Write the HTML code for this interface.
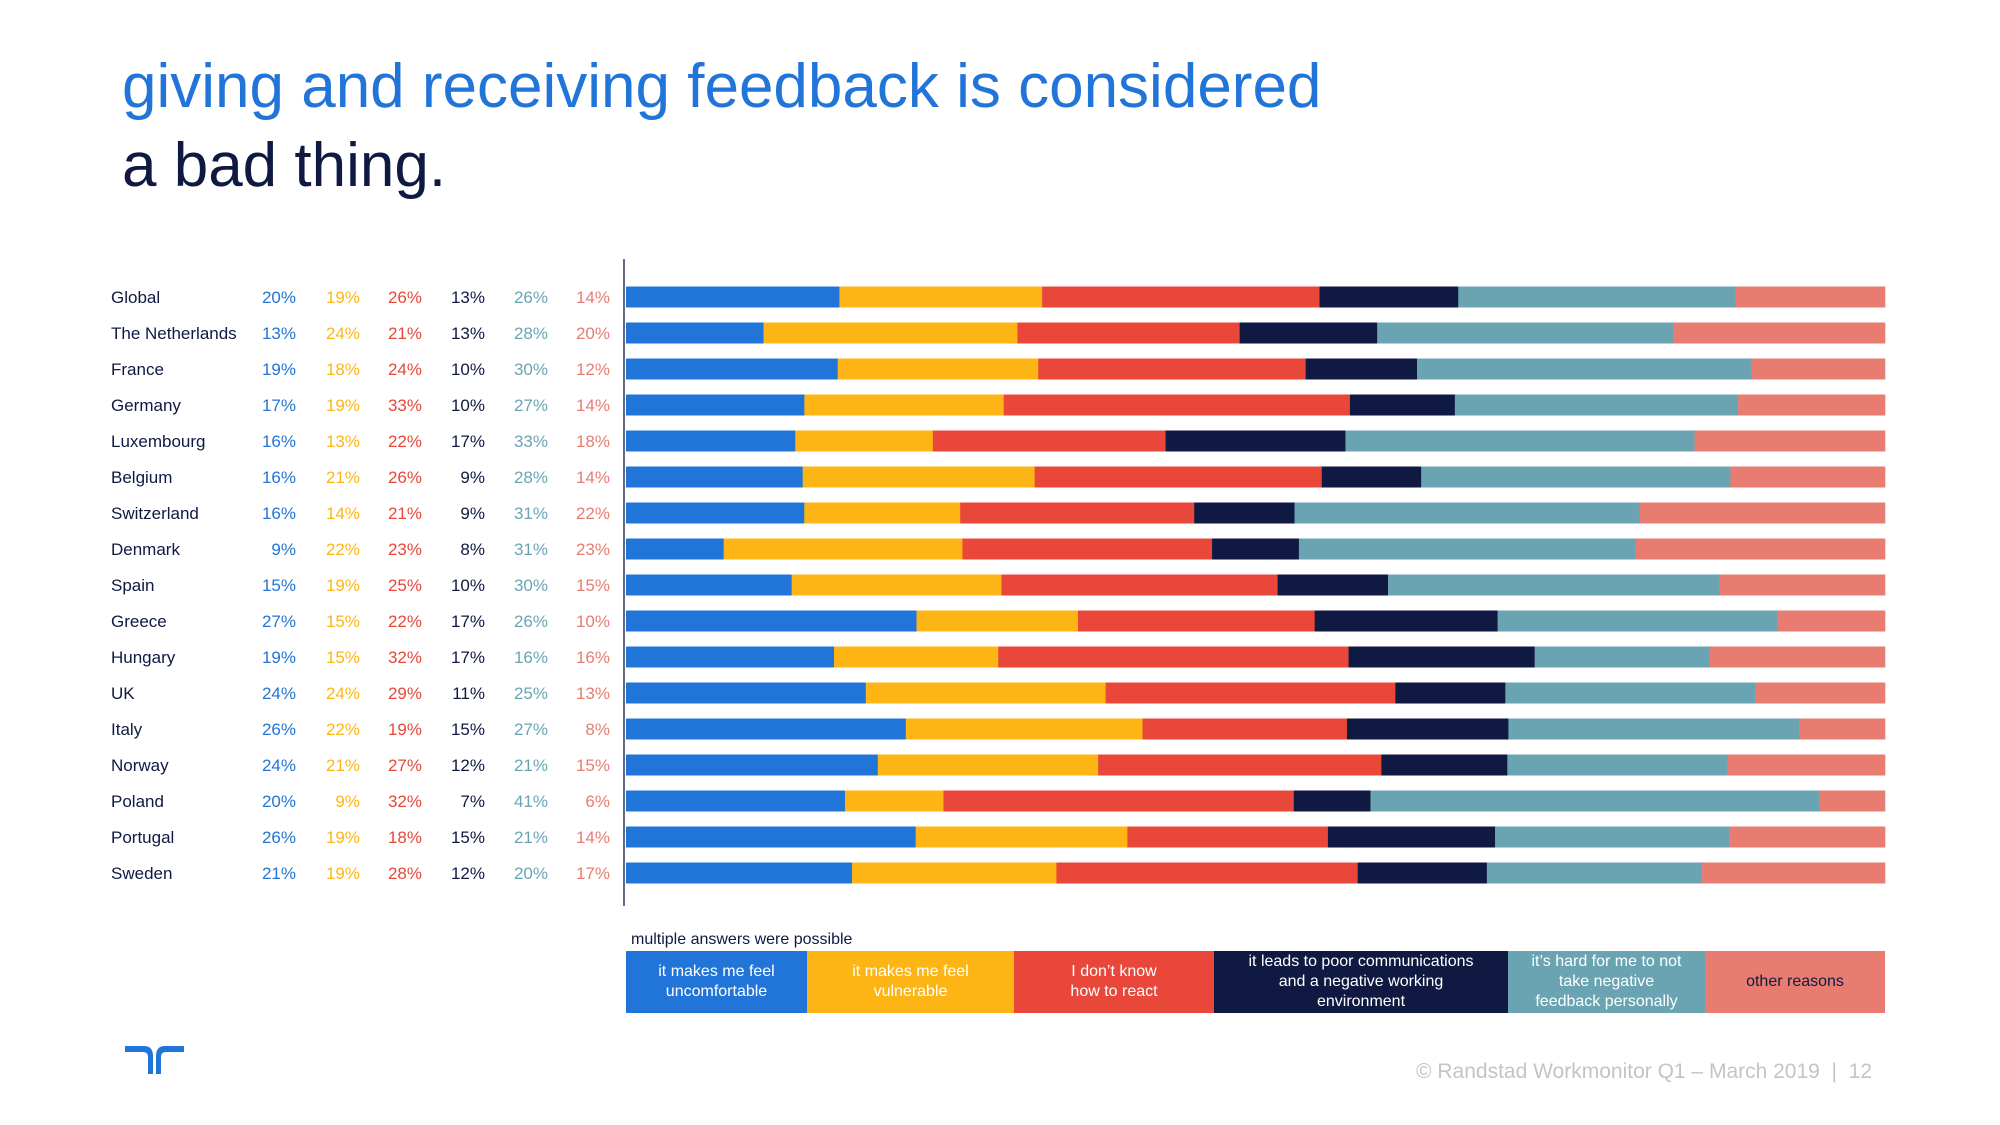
<!DOCTYPE html>
<html><head><meta charset="utf-8">
<style>
body{margin:0;background:#fff;}
#root{position:relative;width:2000px;height:1125px;overflow:hidden;font-family:"Liberation Sans",sans-serif;background:#fff;}
.t{position:absolute;white-space:nowrap;}
</style></head>
<body>
<div id="root">
<div class="t" style="left:122px;top:51px;font-size:62px;color:#2175d9;">giving and receiving feedback is considered</div>
<div class="t" style="left:122px;top:130px;font-size:62px;color:#0f1941;">a bad thing.</div>
<svg id="chart" width="2000" height="1125" style="position:absolute;left:0;top:0"></svg>
<div class="t" style="left:631px;top:931px;font-size:16px;color:#0f1941;">multiple answers were possible</div>
<div id="legend"></div>
<div class="t" style="right:128px;top:1060px;font-size:21px;color:#c4c4c4;">© Randstad Workmonitor Q1 – March 2019 &nbsp;|&nbsp; 12</div>
<svg style="position:absolute;left:124px;top:1044px" width="62" height="32" viewBox="0 0 62 32">
<path d="M1 2 H20 Q29 2 29 12 V30 H24 V13 Q24 8 19 8 H1 Z" fill="#2175d9"/>
<path d="M60 2 H41 Q32 2 32 12 V30 H37 V13 Q37 8 42 8 H60 Z" fill="#2175d9"/>
</svg>
</div>
<script>
const countries=["Global","The Netherlands","France","Germany","Luxembourg","Belgium","Switzerland","Denmark","Spain","Greece","Hungary","UK","Italy","Norway","Poland","Portugal","Sweden"];
const uncomfortable=[20,13,19,17,16,16,16,9,15,27,19,24,26,24,20,26,21];
const vulnerable=[19,24,18,19,13,21,14,22,19,15,15,24,22,21,9,19,19];
const dontKnow=[26,21,24,33,22,26,21,23,25,22,32,29,19,27,32,18,28];
const poorComms=[13,13,10,10,17,9,9,8,10,17,17,11,15,12,7,15,12];
const personally=[26,28,30,27,33,28,31,31,30,26,16,25,27,21,41,21,20];
const otherReasons=[14,20,12,14,18,14,22,23,15,10,16,13,8,15,6,14,17];
const seriesNames=["uncomfortable","vulnerable","dont-know","poor-communications","personally","other-reasons"];
const legendLabels=["it makes me feel<br>uncomfortable","it makes me feel<br>vulnerable","I don’t know<br>how to react","it leads to poor communications<br>and a negative working<br>environment","it’s hard for me to not<br>take negative<br>feedback personally","other reasons"];
const series=[uncomfortable,vulnerable,dontKnow,poorComms,personally,otherReasons];
const colors=["#2175d9","#fdb515","#e8473a","#0f1941","#6aa4b3","#e87c70"];
const textColors=["#2175d9","#fdb515","#e8473a","#0f1941","#6aa4b3","#e87c70"];
const NS="http://www.w3.org/2000/svg";
const svg=document.getElementById('chart');
const x0=626,x1=1885,rowTop=297,rowStep=36.0,barH=21;
function yPos(i){return rowTop+i*rowStep;}
function xScale(frac){return x0+frac*(x1-x0);}
const colX=[296,360,422,485,548,610];
const axis=document.createElementNS(NS,'line');


axis.setAttribute('x1',624);axis.setAttribute('x2',624);axis.setAttribute('y1',259);axis.setAttribute('y2',906);
axis.setAttribute('stroke','#0f1941');axis.setAttribute('stroke-width','1.3');
svg.appendChild(axis);
countries.forEach((c,i)=>{
  const yc=yPos(i);
  const lab=document.createElementNS(NS,'text');
  
  
  lab.setAttribute('x',111);lab.setAttribute('y',yc+6);
  lab.setAttribute('font-size','17');lab.setAttribute('fill','#0f1941');
  lab.setAttribute('font-family','Liberation Sans, sans-serif');
  lab.textContent=c;svg.appendChild(lab);
  const tot=series.reduce((s,a)=>s+a[i],0);
  let acc=0;
  series.forEach((arr,k)=>{
    const v=arr[i];
    const t=document.createElementNS(NS,'text');
    
    
    t.setAttribute('x',colX[k]);t.setAttribute('y',yc+6);
    t.setAttribute('text-anchor','end');t.setAttribute('font-size','17');
    t.setAttribute('fill',textColors[k]);
    t.setAttribute('font-family','Liberation Sans, sans-serif');
    t.textContent=v+'%';svg.appendChild(t);
    const r=document.createElementNS(NS,'rect');
    
    
    const xa=xScale(acc/tot),xb=xScale((acc+v)/tot);
    r.setAttribute('x',xa);r.setAttribute('width',xb-xa+0.3);
    r.setAttribute('y',yc-barH/2);r.setAttribute('height',barH);
    r.setAttribute('fill',colors[k]);svg.appendChild(r);
    acc+=v;
  });
});
const legX=[626,807,1014,1214,1508,1705,1885];
const leg=document.getElementById('legend');
legendLabels.forEach((l,k)=>{
  const d=document.createElement('div');
  
  
  d.style.cssText='position:absolute;top:951px;height:62px;display:flex;align-items:center;justify-content:center;text-align:center;font-size:16px;line-height:20px;left:'+legX[k]+'px;width:'+(legX[k+1]-legX[k])+'px;background:'+colors[k]+';color:'+(k==5?'#0f1941':'#fff');
  d.innerHTML=l;leg.appendChild(d);
});
</script>
</body></html>
